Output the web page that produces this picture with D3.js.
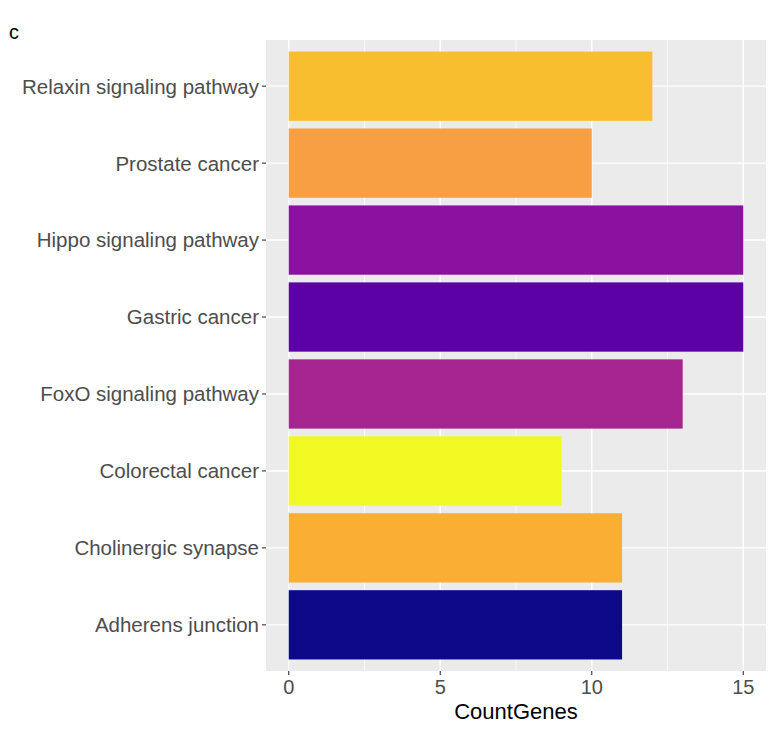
<!DOCTYPE html>
<html>
<head>
<meta charset="utf-8">
<script src="https://cdn.jsdelivr.net/npm/d3@7"></script>
<style>
  html, body { margin: 0; padding: 0; background: #fff; }
  svg { display: block; font-family: "Liberation Sans", Arial, sans-serif; }
</style>
</head>
<body>
<svg id="chart" width="776" height="731"></svg>
<script>
// KEGG pathways, top to bottom
const pathways = [
  "Relaxin signaling pathway",
  "Prostate cancer",
  "Hippo signaling pathway",
  "Gastric cancer",
  "FoxO signaling pathway",
  "Colorectal cancer",
  "Cholinergic synapse",
  "Adherens junction"
];
const countGenes = [12, 10, 15, 15, 13, 9, 11, 11];
const barColors = ["#F8BE30", "#F79F42", "#8A10A0", "#5C01A5", "#A62490", "#F0F921", "#FAAE33", "#0D0887"];
const xTicks = [0, 5, 10, 15];
const xMinorTicks = [2.5, 7.5, 12.5];

const svg = d3.select("#chart");
const panel = { left: 266, right: 766, top: 40, bottom: 671 };

const maxVal = d3.max(countGenes);
const x = d3.scaleLinear()
  .domain([-0.05 * maxVal, maxVal * 1.05])
  .range([panel.left, panel.right]);

// discrete axis with ggplot-style 0.6 unit padding on each end
const n = pathways.length;
const yPos = d3.scaleLinear()
  .domain([0.4, n + 0.6])
  .range([panel.top, panel.bottom]);
const yCenter = i => yPos(i + 1);
const bandH = yPos(1.45) - yPos(0.55);

// panel background
svg.append("rect")
  .attr("x", panel.left).attr("y", panel.top)
  .attr("width", panel.right - panel.left).attr("height", panel.bottom - panel.top)
  .attr("fill", "#EBEBEB");

// minor grid
svg.append("g").selectAll("line").data(xMinorTicks).join("line")
  .attr("x1", d => x(d)).attr("x2", d => x(d))
  .attr("y1", panel.top).attr("y2", panel.bottom)
  .attr("stroke", "#fff").attr("stroke-width", 0.7);

// major grid
svg.append("g").selectAll("line").data(xTicks).join("line")
  .attr("x1", d => x(d)).attr("x2", d => x(d))
  .attr("y1", panel.top).attr("y2", panel.bottom)
  .attr("stroke", "#fff").attr("stroke-width", 1.4);
svg.append("g").selectAll("line").data(pathways).join("line")
  .attr("x1", panel.left).attr("x2", panel.right)
  .attr("y1", (d, i) => yCenter(i)).attr("y2", (d, i) => yCenter(i))
  .attr("stroke", "#fff").attr("stroke-width", 1.4);

// bars
svg.append("g").selectAll("rect").data(pathways).join("rect")
  .attr("x", x(0))
  .attr("y", (d, i) => yCenter(i) - bandH / 2)
  .attr("width", (d, i) => x(countGenes[i]) - x(0))
  .attr("height", bandH)
  .attr("fill", (d, i) => barColors[i]);

// y axis
const yAxis = svg.append("g");
yAxis.selectAll("line").data(pathways).join("line")
  .attr("x1", panel.left - 4).attr("x2", panel.left)
  .attr("y1", (d, i) => yCenter(i)).attr("y2", (d, i) => yCenter(i))
  .attr("stroke", "#333").attr("stroke-width", 1.1);
yAxis.selectAll("text").data(pathways).join("text")
  .attr("x", panel.left - 7)
  .attr("y", (d, i) => yCenter(i))
  .attr("dy", "0.36em")
  .attr("text-anchor", "end")
  .attr("font-size", 20.5)
  .attr("fill", "#4D4D4D")
  .text(d => d);

// x axis
const xAxis = svg.append("g");
xAxis.selectAll("line").data(xTicks).join("line")
  .attr("x1", d => x(d)).attr("x2", d => x(d))
  .attr("y1", panel.bottom).attr("y2", panel.bottom + 4)
  .attr("stroke", "#333").attr("stroke-width", 1.1);
xAxis.selectAll("text").data(xTicks).join("text")
  .attr("x", d => x(d))
  .attr("y", panel.bottom + 23)
  .attr("text-anchor", "middle")
  .attr("font-size", 20)
  .attr("fill", "#4D4D4D")
  .text(d => d);

// axis title
svg.append("text")
  .attr("x", (panel.left + panel.right) / 2)
  .attr("y", 719)
  .attr("text-anchor", "middle")
  .attr("font-size", 22)
  .attr("fill", "#000")
  .text("CountGenes");

// panel tag
svg.append("text")
  .attr("x", 9).attr("y", 39)
  .attr("font-size", 20)
  .attr("fill", "#000")
  .text("c");
</script>
</body>
</html>
